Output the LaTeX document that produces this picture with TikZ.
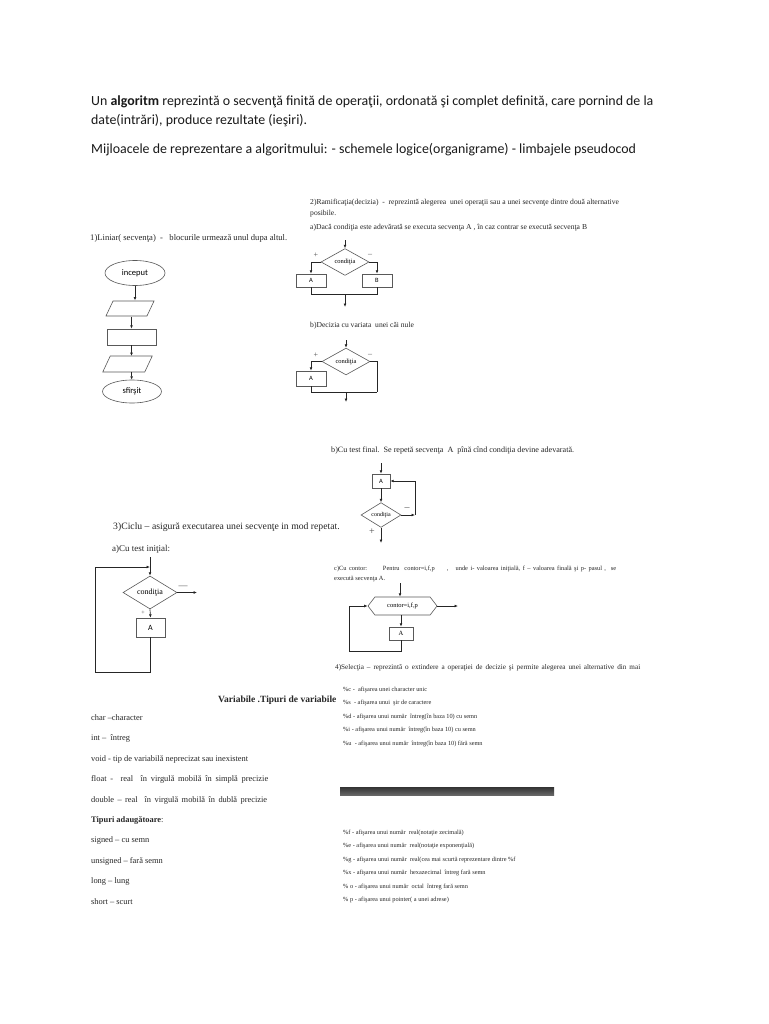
\documentclass[tikz,border=0pt]{standalone}
\usepackage{fontspec}
\setmainfont{Liberation Serif}
\newfontfamily\calfont{Carlito}
\usetikzlibrary{arrows.meta,shapes.geometric,shapes.symbols}
\newcommand{\fs}[1]{\fontsize{#1}{#1}\selectfont}
\tikzset{
  big/.style={font=\calfont\fs{13.9}, inner sep=0pt, anchor=west, text=black!90},
  sm/.style={inner sep=0pt, anchor=west, text=black!85},
  ln/.style={draw=black!85, line width=0.7pt},
  arr/.style={ln, -{Latex[length=3.4pt,width=2.8pt]}},
  bx/.style={draw=black!65, line width=0.6pt, inner sep=0pt, font=\calfont\fs{6.5}},
  dia/.style={diamond, draw=black!65, line width=0.6pt, inner sep=0pt, font=\fs{6.5}},
  ell/.style={ellipse, draw=black!65, line width=0.6pt, inner sep=0pt, font=\calfont\fs{8.5}},
  para/.style={draw=black!65, line width=0.6pt, inner sep=0pt, xslant=0.47},
  lbl/.style={inner sep=0pt, text=black!70, font=\fs{8}}
}
\begin{document}
\begin{tikzpicture}[x=1pt,y=-1pt]
\useasboundingbox (0,0) rectangle (768,1024);
\fill[white] (0,0) rectangle (768,1024);

% header
\node[big] (h1) at (91,102) {Un \textbf{algoritm} reprezintă o secvenţă finită de operaţii, ordonată şi complet definită, care pornind de la};
\node[big] (h2) at (91,121) {date(intrări), produce rezultate (ieşiri).};
\node[big] (h3) at (91,150) {Mijloacele de reprezentare a algoritmului: - schemele logice(organigrame) - limbajele pseudocod};

% 1) liniar
\node[sm, font=\fs{8.6}] (s1) at (90,238) {1)Liniar( secvenţa)\ \ -\ \ \ blocurile urmează unul dupa altul.};
\node[ell, minimum width=60, minimum height=25] (e1) at (135,273) {inceput};
\node[para, minimum width=41, minimum height=15] (p1) at (130,308.5) {};
\node[bx, minimum width=49, minimum height=16] (r1) at (131.5,337) {};
\node[para, minimum width=42, minimum height=16] (p2) at (127.5,364) {};
\node[ell, minimum width=59, minimum height=23] (e2) at (132,391.5) {sfîrşit};
\coordinate (k1) at (135,300.5);
\coordinate (k2) at (131.5,316.5);
\coordinate (k3) at (131.5,356);
\coordinate (k4) at (131.5,372);
\draw[arr] (e1) -- (k1);
\draw[arr] (k2) -- (r1.north);
\draw[arr] (r1.south) -- (k3);
\draw[arr] (k4) -- (e2);

% 2) ramificatia
\node[sm, font=\fs{7.6}] (s2a) at (310,203) {2)Ramificaţia(decizia)\ \ -\ \ reprezintă alegerea\ \ unei operaţii sau a unei secvenţe dintre două alternative};
\node[sm, font=\fs{7.6}] (s2b) at (310,214) {posibile.};
\node[sm, font=\fs{7.6}] (s2c) at (310,228) {a)Dacă condiţia este adevărată se executa secvenţa A , în caz contrar se execută secvenţa B};

\node[dia, minimum width=48, minimum height=22] (d1) at (345,262) {condiţia};
\coordinate (d1in) at (345,240);
\draw[arr] (d1in) -- (d1.north);
\node[bx, minimum width=30, minimum height=13] (a1) at (311,280.5) {A};
\node[bx, minimum width=30, minimum height=13] (b1) at (377,280.5) {B};
\coordinate (j1) at (311,262);
\coordinate (j2) at (377,262);
\draw[ln] (d1.west) -- (j1);
\draw[arr] (j1) -- (a1);
\draw[ln] (d1.east) -- (j2);
\draw[arr] (j2) -- (b1);
\coordinate (m1) at (345,294);
\coordinate (o1) at (345,307);
\draw[ln] (a1.south) |- (b1.south |- m1) -- (b1.south);
\draw[arr] (m1) -- (o1);
\node[lbl] (pl1) at (316,255.5) {+};
\node[lbl] (mi1) at (370,255.5) {–};

\node[sm, font=\fs{7.6}] (s2d) at (310,326) {b)Decizia cu variata\ \ unei căi nule};
\node[dia, minimum width=48, minimum height=23] (d2) at (346,361.5) {condiţia};
\coordinate (d2in) at (346,340);
\draw[arr] (d2in) -- (d2.north);
\node[bx, minimum width=30, minimum height=15] (a2) at (311,378.5) {A};
\coordinate (j3) at (311,361.5);
\draw[ln] (d2.west) -- (j3);
\draw[arr] (j3) -- (a2);
\coordinate (c2r) at (377,392);
\coordinate (m2) at (346,392);
\coordinate (o2) at (346,402);
\draw[ln] (d2.east) -| (c2r);
\draw[ln] (a2.south) |- (c2r);
\draw[arr] (m2) -- (o2);
\node[lbl] (pl2) at (316,355) {+};
\node[lbl] (mi2) at (370,355) {–};

% 3b) test final
\node[sm, font=\fs{8.1}] (s3b) at (331,451) {b)Cu test final.\ \ Se repetă secvenţa\ \ A\ \ pînă cînd condiţia devine adevarată.};
\node[bx, minimum width=18, minimum height=14] (a3) at (381,481) {A};
\coordinate (a3in) at (381,463);
\draw[arr] (a3in) -- (a3.north);
\node[dia, minimum width=40, minimum height=24, font=\fs{6}] (d3) at (381,515) {condiţia};
\draw[arr] (a3.south) -- (d3.north);
\coordinate (c3) at (415,515);
\draw[arr] (d3.east) -- (c3);
\draw[arr] (c3) |- (a3.east);
\coordinate (o3) at (381,543);
\draw[arr] (d3.south) -- (o3);
\node[lbl, font=\fs{10}] (mi3) at (407,509) {–};
\node[lbl, font=\fs{10}] (pl3) at (372,532) {+};

% 3) ciclu
\node[sm, font=\fs{9.7}] (s3) at (113,527) {3)Ciclu – asigură executarea unei secvenţe in mod repetat.};
\node[sm, font=\fs{9.0}] (s3a) at (112,549) {a)Cu test iniţial:};
\node[dia, minimum width=54, minimum height=29, font=\fs{8}] (d4) at (150,592.5) {condiţia};
\coordinate (d4in) at (150,557);
\draw[arr] (d4in) -- (d4.north);
\coordinate (o4) at (197,592.5);
\draw[arr] (d4.east) -- (o4);
\node[lbl, font=\fs{9}] (mi4) at (183,587) {—};
\node[bx, minimum width=29, minimum height=19, font=\calfont\fs{8}] (a4) at (150.5,627.5) {A};
\draw[arr] (d4.south) -- (a4.north);
\node[lbl, font=\fs{6}] (pl4) at (143,613) {+};
\coordinate (l4a) at (95,672);
\coordinate (l4b) at (150,567);
\draw[arr] (a4.south) |- (l4a) |- (l4b);

% 3c) contor
\node[sm, font=\fs{6.4}] (s3c) at (334,569) {\makebox[282pt][s]{c)Cu contor:\hspace{12pt} Pentru\ \ contor=i,f,p\ \ \ \ \ ,\ \ \ unde i- valoarea iniţială, f – valoarea finală şi p- pasul ,\ \ se}};
\node[sm, font=\fs{6.4}] (s3c2) at (334,579) {execută secvenţa A.};
\node[signal, signal to=west and east, signal pointer angle=105, draw=black!65, line width=0.6pt, inner sep=0pt, minimum width=69, minimum height=18, font=\fs{6.5}] (h5) at (402.5,606) {contor=i,f,p};
\coordinate (h5in) at (400,583);
\draw[arr] (h5in) -- (h5in |- h5.north);
\coordinate (o5) at (458,606);
\draw[arr] (h5.east) -- (o5);
\node[bx, minimum width=24, minimum height=13, font=\fs{6.5}] (a5) at (401,633.5) {A};
\draw[arr] (a5.north |- h5.south) -- (a5.north);
\coordinate (l5a) at (349,651);
\draw[arr] (a5.south) |- (l5a) |- (h5.west);

\node[sm, font=\fs{7.2}] (s4) at (335,668) {\makebox[305pt][s]{4)Selecţia – reprezintă o extindere a operaţiei de decizie şi permite alegerea unei alternative din mai}};

% variabile
\node[sm, font=\bfseries\fs{9.5}] (v0) at (218,700) {Variabile .Tipuri de variabile};
\begin{scope}[every node/.style={sm, font=\fs{8.4}}]
\node (v1) at (91,718) {char –character};
\node (v2) at (91,738.5) {int –\ \ întreg};
\node (v3) at (91,759) {void - tip de variabilă neprecizat sau inexistent};
\node (v4) at (91,779.5) {\makebox[177pt][s]{float -\ \ real\ \ în virgulă mobilă în simplă precizie}};
\node (v5) at (91,800) {\makebox[176pt][s]{double – real\ \ în virgulă mobilă în dublă precizie}};
\node (v6) at (91,820) {\textbf{Tipuri adaugătoare}:};
\node (v7) at (91,840.5) {signed – cu semn};
\node (v8) at (91,861) {unsigned – fară semn};
\node (v9) at (91,881) {long – lung};
\node (v10) at (91,901.5) {short – scurt};
\end{scope}

\begin{scope}[every node/.style={sm, font=\fs{6.3}}]
\node (f1) at (343,690) {\%c -\ \ afişarea unei character unic};
\node (f2) at (343,703) {\%s\ \ - afişarea unui\ \ şir de caractere};
\node (f3) at (343,716.5) {\%d - afişarea unui număr\ \ întreg(în baza 10) cu semn};
\node (f4) at (343,730) {\%i - afişarea unui număr\ \ întreg(în baza 10) cu semn};
\node (f5) at (343,743.5) {\%u\ \ - afişarea unui număr\ \ întreg(în baza 10) fără semn};
\node (g1) at (343,832.5) {\%f - afişarea unui număr\ \ real(notaţie zecimală)};
\node (g2) at (343,846) {\%e - afişarea unui număr\ \ real(notaţie exponenţială)};
\node (g3) at (343,859.5) {\%g - afişarea unui număr\ \ real(cea mai scurtă reprezentare dintre \%f};
\node (g4) at (343,873) {\%x - afişarea unui număr\ \ hexazecimal\ \ întreg fară semn};
\node (g5) at (343,886.5) {\% o - afişarea unui număr\ \ octal\ \ întreg fară semn};
\node (g6) at (343,900) {\% p - afişarea unui pointer( a unei adrese)};
\end{scope}

\shade[top color=black!80, bottom color=black!60] (340,787) rectangle (554,795);
\end{tikzpicture}
\end{document}
